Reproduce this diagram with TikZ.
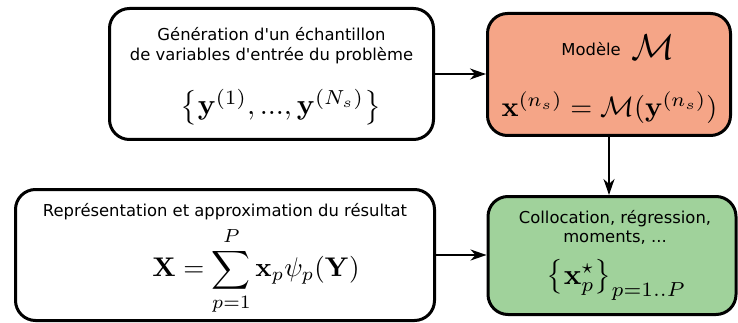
\documentclass[tikz,border=0pt]{standalone}
\usepackage[no-math]{fontspec}
\newfontfamily\dejavu{DejaVu Sans}
\usepackage{amsmath}
\usepackage{graphicx}
\usetikzlibrary{arrows.meta}
\definecolor{boxorange}{RGB}{245,165,135}
\definecolor{boxgreen}{RGB}{160,210,155}
\tikzset{
  stepbox/.style={draw=black, line width=3pt, rounded corners=20pt, inner sep=0pt, align=center},
  flow/.style={line width=2pt, -{Stealth[length=16pt,width=11pt,inset=5pt]}},
  txt/.style={font=\dejavu\fontsize{16.4}{19.5}\selectfont, align=center, inner sep=0pt},
  mth/.style={inner sep=0pt},
}
\begin{document}
\begin{tikzpicture}[x=1pt,y=-1pt]
\useasboundingbox (0,0) rectangle (738,323);
% boxes
\node[stepbox, minimum width=324pt, minimum height=131pt] (gen) at (271.5,74) {};
\node[stepbox, fill=boxorange, minimum width=243pt, minimum height=122pt] (mod) at (609,74.5) {};
\node[stepbox, fill=boxgreen, minimum width=248pt, minimum height=118pt] (col) at (612,255.5) {};
\node[stepbox, minimum width=419pt, minimum height=131pt] (rep) at (225,255) {};
% texts
\node[txt] (gent) at (271.5,45.5) {Génération d'un échantillon\\de variables d'entrée du problème};
\node[mth] (genm) at (281,107) {\scalebox{2.9}{$\left\{\mathbf{y}^{(1)},...,\mathbf{y}^{(N_s)}\right\}$}};
\node[txt, anchor=east] (modt) at (621,49) {Modèle};
\node[mth, anchor=west] (modc) at (631,47) {\scalebox{3.6}{$\mathcal{M}$}};
\node[mth] (modm) at (609.5,108) {\scalebox{2.82}{$\mathbf{x}^{(n_s)}=\mathcal{M}(\mathbf{y}^{(n_s)})$}};
\node[txt] (colt) at (615,227.5) {Collocation, régression,\\moments, ...};
\node[mth] (colm) at (616.5,280) {\scalebox{2.9}{$\left\{\mathbf{x}_p^{\star}\right\}_{p=1..P}$}};
\node[txt] (rept) at (225,212) {Représentation et approximation du résultat};
\node[mth] (repm) at (256,271) {\scalebox{2.7}{$\displaystyle\mathbf{X}=\sum_{p=1}^{P}\mathbf{x}_p\psi_p(\mathbf{Y})$}};
% connectors
\draw[flow] (gen.east) -- (mod.west |- gen.east);
\draw[flow] (mod.south) -- (col.north -| mod.south);
\draw[flow] (rep.east) -- (col.west |- rep.east);
\end{tikzpicture}
\end{document}
